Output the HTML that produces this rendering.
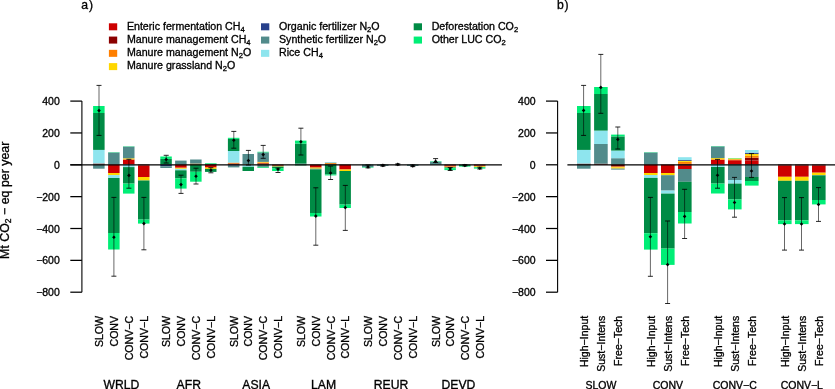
<!DOCTYPE html>
<html><head><meta charset="utf-8"><style>
html,body{margin:0;padding:0;background:#fff;overflow:hidden}
svg{display:block;will-change:transform}
text{font-family:"Liberation Sans", sans-serif;fill:#000;stroke:#000;stroke-width:0.32px}
</style></head><body>
<svg width="835" height="389" viewBox="0 0 835 389">
<rect x="108.90" y="23.30" width="8.3" height="7" fill="#CD0000"/>
<text x="126.90" y="29.50" font-size="10.65">Enteric fermentation CH<tspan font-size="7.6" dy="2.3">4</tspan></text>
<rect x="108.90" y="36.57" width="8.3" height="7" fill="#8B0000"/>
<text x="126.90" y="42.73" font-size="10.65">Manure management CH<tspan font-size="7.6" dy="2.3">4</tspan></text>
<rect x="108.90" y="49.84" width="8.3" height="7" fill="#FF7F00"/>
<text x="126.90" y="55.96" font-size="10.65">Manure management N<tspan font-size="7.6" dy="2.3">2</tspan><tspan dy="-2.3">O</tspan></text>
<rect x="108.90" y="63.11" width="8.3" height="7" fill="#FFD700"/>
<text x="126.90" y="69.19" font-size="10.65">Manure grassland N<tspan font-size="7.6" dy="2.3">2</tspan><tspan dy="-2.3">O</tspan></text>
<rect x="261.00" y="23.30" width="8.3" height="7" fill="#27408B"/>
<text x="279.00" y="29.50" font-size="10.65">Organic fertilizer N<tspan font-size="7.6" dy="2.3">2</tspan><tspan dy="-2.3">O</tspan></text>
<rect x="261.00" y="36.57" width="8.3" height="7" fill="#528B8B"/>
<text x="279.00" y="42.73" font-size="10.65">Synthetic fertilizer N<tspan font-size="7.6" dy="2.3">2</tspan><tspan dy="-2.3">O</tspan></text>
<rect x="261.00" y="49.84" width="8.3" height="7" fill="#8EE5EE"/>
<text x="279.00" y="55.96" font-size="10.65">Rice CH<tspan font-size="7.6" dy="2.3">4</tspan></text>
<rect x="413.70" y="23.30" width="8.3" height="7" fill="#008B45"/>
<text x="431.70" y="29.50" font-size="10.65">Deforestation CO<tspan font-size="7.6" dy="2.3">2</tspan></text>
<rect x="413.70" y="36.57" width="8.3" height="7" fill="#00EE76"/>
<text x="431.70" y="42.73" font-size="10.65">Other LUC CO<tspan font-size="7.6" dy="2.3">2</tspan></text>
<text x="81.3" y="9.0" font-size="12.2">a</text><text x="88.9" y="8.9" font-size="12.2">)</text>
<text x="557.0" y="8.8" font-size="12.2">b</text><text x="564.6" y="8.8" font-size="12.2">)</text>
<rect x="93.10" y="163.50" width="11.50" height="1.10" fill="#8B0000"/>
<rect x="93.10" y="149.90" width="11.50" height="13.60" fill="#8EE5EE"/>
<rect x="93.10" y="113.00" width="11.50" height="36.90" fill="#008B45"/>
<rect x="93.10" y="106.00" width="11.50" height="7.00" fill="#00EE76"/>
<rect x="93.10" y="164.60" width="11.50" height="4.10" fill="#528B8B"/>
<rect x="108.10" y="152.50" width="11.50" height="12.10" fill="#528B8B"/>
<rect x="108.10" y="152.20" width="11.50" height="0.30" fill="#00EE76"/>
<rect x="108.10" y="164.60" width="11.50" height="8.40" fill="#CD0000"/>
<rect x="108.10" y="173.00" width="11.50" height="2.10" fill="#FFD700"/>
<rect x="108.10" y="175.10" width="11.50" height="2.90" fill="#8EE5EE"/>
<rect x="108.10" y="178.00" width="11.50" height="55.00" fill="#008B45"/>
<rect x="108.10" y="233.00" width="11.50" height="16.50" fill="#00EE76"/>
<rect x="123.00" y="159.60" width="11.50" height="5.00" fill="#CD0000"/>
<rect x="123.00" y="159.20" width="11.50" height="0.40" fill="#FF7F00"/>
<rect x="123.00" y="158.30" width="11.50" height="0.90" fill="#FFD700"/>
<rect x="123.00" y="146.60" width="11.50" height="11.70" fill="#528B8B"/>
<rect x="123.00" y="146.30" width="11.50" height="0.30" fill="#00EE76"/>
<rect x="123.00" y="164.60" width="11.50" height="2.50" fill="#8EE5EE"/>
<rect x="123.00" y="167.10" width="11.50" height="16.50" fill="#008B45"/>
<rect x="123.00" y="183.60" width="11.50" height="10.00" fill="#00EE76"/>
<rect x="138.00" y="164.60" width="11.50" height="0.80" fill="#8B0000"/>
<rect x="138.00" y="165.40" width="11.50" height="11.60" fill="#CD0000"/>
<rect x="138.00" y="177.00" width="11.50" height="3.50" fill="#FFD700"/>
<rect x="138.00" y="180.50" width="11.50" height="39.10" fill="#008B45"/>
<rect x="138.00" y="219.60" width="11.50" height="4.00" fill="#00EE76"/>
<rect x="160.30" y="158.90" width="11.50" height="5.70" fill="#008B45"/>
<rect x="160.30" y="156.50" width="11.50" height="2.40" fill="#00EE76"/>
<rect x="160.30" y="164.60" width="11.50" height="1.70" fill="#27408B"/>
<rect x="160.30" y="166.30" width="11.50" height="1.70" fill="#528B8B"/>
<rect x="175.10" y="160.60" width="11.50" height="4.00" fill="#528B8B"/>
<rect x="175.10" y="164.60" width="11.50" height="3.10" fill="#CD0000"/>
<rect x="175.10" y="167.70" width="11.50" height="0.50" fill="#FF7F00"/>
<rect x="175.10" y="168.20" width="11.50" height="0.70" fill="#FFD700"/>
<rect x="175.10" y="168.90" width="11.50" height="1.40" fill="#8EE5EE"/>
<rect x="175.10" y="170.30" width="11.50" height="8.10" fill="#008B45"/>
<rect x="175.10" y="178.40" width="11.50" height="10.20" fill="#00EE76"/>
<rect x="190.10" y="163.60" width="11.50" height="1.00" fill="#FF7F00"/>
<rect x="190.10" y="159.50" width="11.50" height="4.10" fill="#528B8B"/>
<rect x="190.10" y="164.60" width="11.50" height="7.20" fill="#008B45"/>
<rect x="190.10" y="171.80" width="11.50" height="9.90" fill="#00EE76"/>
<rect x="205.00" y="163.80" width="11.50" height="0.80" fill="#008B45"/>
<rect x="205.00" y="163.20" width="11.50" height="0.60" fill="#00EE76"/>
<rect x="205.00" y="164.60" width="11.50" height="2.50" fill="#CD0000"/>
<rect x="205.00" y="167.10" width="11.50" height="0.80" fill="#FF7F00"/>
<rect x="205.00" y="167.90" width="11.50" height="1.00" fill="#FFD700"/>
<rect x="205.00" y="168.90" width="11.50" height="3.00" fill="#008B45"/>
<rect x="227.90" y="163.50" width="11.50" height="1.10" fill="#8B0000"/>
<rect x="227.90" y="162.60" width="11.50" height="0.90" fill="#FF7F00"/>
<rect x="227.90" y="151.00" width="11.50" height="11.60" fill="#8EE5EE"/>
<rect x="227.90" y="138.90" width="11.50" height="12.10" fill="#008B45"/>
<rect x="227.90" y="137.80" width="11.50" height="1.10" fill="#00EE76"/>
<rect x="227.90" y="164.60" width="11.50" height="1.00" fill="#27408B"/>
<rect x="227.90" y="165.60" width="11.50" height="1.80" fill="#528B8B"/>
<rect x="242.50" y="164.00" width="11.50" height="0.60" fill="#FF7F00"/>
<rect x="242.50" y="154.00" width="11.50" height="10.00" fill="#528B8B"/>
<rect x="242.50" y="164.60" width="11.50" height="2.20" fill="#8EE5EE"/>
<rect x="242.50" y="166.80" width="11.50" height="4.20" fill="#008B45"/>
<rect x="257.40" y="163.30" width="11.50" height="1.30" fill="#8B0000"/>
<rect x="257.40" y="162.40" width="11.50" height="0.90" fill="#FF7F00"/>
<rect x="257.40" y="161.90" width="11.50" height="0.50" fill="#FFD700"/>
<rect x="257.40" y="152.40" width="11.50" height="9.50" fill="#528B8B"/>
<rect x="257.40" y="151.80" width="11.50" height="0.60" fill="#00EE76"/>
<rect x="257.40" y="164.60" width="11.50" height="2.20" fill="#528B8B"/>
<rect x="257.40" y="166.80" width="11.50" height="0.60" fill="#008B45"/>
<rect x="257.40" y="167.40" width="11.50" height="0.60" fill="#00EE76"/>
<rect x="272.10" y="164.60" width="11.50" height="1.10" fill="#8B0000"/>
<rect x="272.10" y="165.70" width="11.50" height="0.50" fill="#FF7F00"/>
<rect x="272.10" y="166.20" width="11.50" height="0.40" fill="#FFD700"/>
<rect x="272.10" y="166.60" width="11.50" height="1.60" fill="#008B45"/>
<rect x="272.10" y="168.20" width="11.50" height="2.80" fill="#00EE76"/>
<rect x="295.00" y="163.60" width="11.50" height="1.00" fill="#528B8B"/>
<rect x="295.00" y="143.60" width="11.50" height="20.00" fill="#008B45"/>
<rect x="295.00" y="140.60" width="11.50" height="3.00" fill="#00EE76"/>
<rect x="295.00" y="164.60" width="11.50" height="0.80" fill="#008B45"/>
<rect x="310.00" y="164.60" width="11.50" height="3.00" fill="#CD0000"/>
<rect x="310.00" y="167.60" width="11.50" height="1.10" fill="#FFD700"/>
<rect x="310.00" y="168.70" width="11.50" height="0.70" fill="#528B8B"/>
<rect x="310.00" y="169.40" width="11.50" height="43.60" fill="#008B45"/>
<rect x="310.00" y="213.00" width="11.50" height="3.50" fill="#00EE76"/>
<rect x="324.90" y="164.20" width="11.50" height="0.40" fill="#8B0000"/>
<rect x="324.90" y="163.10" width="11.50" height="1.10" fill="#FF7F00"/>
<rect x="324.90" y="162.60" width="11.50" height="0.50" fill="#528B8B"/>
<rect x="324.90" y="162.10" width="11.50" height="0.50" fill="#8EE5EE"/>
<rect x="324.90" y="164.60" width="11.50" height="9.90" fill="#008B45"/>
<rect x="324.90" y="174.50" width="11.50" height="0.90" fill="#00EE76"/>
<rect x="339.40" y="164.60" width="11.50" height="4.90" fill="#CD0000"/>
<rect x="339.40" y="169.50" width="11.50" height="1.50" fill="#FFD700"/>
<rect x="339.40" y="171.00" width="11.50" height="33.60" fill="#008B45"/>
<rect x="339.40" y="204.60" width="11.50" height="3.40" fill="#00EE76"/>
<rect x="362.00" y="164.60" width="11.50" height="2.60" fill="#528B8B"/>
<rect x="362.00" y="167.20" width="11.50" height="0.50" fill="#00EE76"/>
<rect x="377.00" y="164.60" width="11.50" height="1.30" fill="#528B8B"/>
<rect x="407.00" y="164.60" width="11.50" height="1.30" fill="#528B8B"/>
<rect x="430.00" y="161.60" width="11.50" height="3.00" fill="#528B8B"/>
<rect x="430.00" y="161.20" width="11.50" height="0.40" fill="#00EE76"/>
<rect x="444.40" y="164.60" width="11.50" height="0.90" fill="#8B0000"/>
<rect x="444.40" y="165.50" width="11.50" height="0.90" fill="#CD0000"/>
<rect x="444.40" y="166.40" width="11.50" height="0.60" fill="#FF7F00"/>
<rect x="444.40" y="167.00" width="11.50" height="0.40" fill="#FFD700"/>
<rect x="444.40" y="167.40" width="11.50" height="0.80" fill="#008B45"/>
<rect x="444.40" y="168.20" width="11.50" height="1.90" fill="#00EE76"/>
<rect x="459.00" y="164.60" width="11.50" height="1.30" fill="#008B45"/>
<rect x="459.00" y="165.90" width="11.50" height="0.70" fill="#00EE76"/>
<rect x="473.90" y="164.60" width="11.50" height="0.90" fill="#8B0000"/>
<rect x="473.90" y="165.50" width="11.50" height="0.80" fill="#CD0000"/>
<rect x="473.90" y="166.30" width="11.50" height="0.70" fill="#FFD700"/>
<rect x="473.90" y="167.00" width="11.50" height="0.50" fill="#008B45"/>
<rect x="473.90" y="167.50" width="11.50" height="1.10" fill="#00EE76"/>
<rect x="577.00" y="163.60" width="13.60" height="1.00" fill="#8B0000"/>
<rect x="577.00" y="149.90" width="13.60" height="13.70" fill="#8EE5EE"/>
<rect x="577.00" y="113.00" width="13.60" height="36.90" fill="#008B45"/>
<rect x="577.00" y="106.00" width="13.60" height="7.00" fill="#00EE76"/>
<rect x="577.00" y="164.60" width="13.60" height="4.10" fill="#528B8B"/>
<rect x="594.10" y="163.70" width="13.60" height="0.90" fill="#8B0000"/>
<rect x="594.10" y="144.00" width="13.60" height="19.70" fill="#528B8B"/>
<rect x="594.10" y="130.60" width="13.60" height="13.40" fill="#8EE5EE"/>
<rect x="594.10" y="94.00" width="13.60" height="36.60" fill="#008B45"/>
<rect x="594.10" y="87.00" width="13.60" height="7.00" fill="#00EE76"/>
<rect x="611.10" y="158.20" width="13.60" height="6.40" fill="#528B8B"/>
<rect x="611.10" y="150.60" width="13.60" height="7.60" fill="#8EE5EE"/>
<rect x="611.10" y="136.40" width="13.60" height="14.20" fill="#008B45"/>
<rect x="611.10" y="134.60" width="13.60" height="1.80" fill="#00EE76"/>
<rect x="611.10" y="164.60" width="13.60" height="2.00" fill="#8B0000"/>
<rect x="611.10" y="166.60" width="13.60" height="0.70" fill="#FF7F00"/>
<rect x="611.10" y="167.30" width="13.60" height="1.30" fill="#FFD700"/>
<rect x="611.10" y="168.60" width="13.60" height="1.00" fill="#528B8B"/>
<rect x="644.00" y="152.50" width="13.60" height="12.10" fill="#528B8B"/>
<rect x="644.00" y="152.20" width="13.60" height="0.30" fill="#00EE76"/>
<rect x="644.00" y="164.60" width="13.60" height="8.40" fill="#CD0000"/>
<rect x="644.00" y="173.00" width="13.60" height="2.00" fill="#FFD700"/>
<rect x="644.00" y="175.00" width="13.60" height="2.90" fill="#8EE5EE"/>
<rect x="644.00" y="177.90" width="13.60" height="55.30" fill="#008B45"/>
<rect x="644.00" y="233.20" width="13.60" height="16.40" fill="#00EE76"/>
<rect x="661.00" y="164.60" width="13.60" height="8.40" fill="#CD0000"/>
<rect x="661.00" y="173.00" width="13.60" height="2.20" fill="#FFD700"/>
<rect x="661.00" y="175.20" width="13.60" height="15.40" fill="#528B8B"/>
<rect x="661.00" y="190.60" width="13.60" height="3.00" fill="#8EE5EE"/>
<rect x="661.00" y="193.60" width="13.60" height="55.00" fill="#008B45"/>
<rect x="661.00" y="248.60" width="13.60" height="16.30" fill="#00EE76"/>
<rect x="678.00" y="163.90" width="13.60" height="0.70" fill="#8B0000"/>
<rect x="678.00" y="161.90" width="13.60" height="2.00" fill="#FF7F00"/>
<rect x="678.00" y="160.80" width="13.60" height="1.10" fill="#FFD700"/>
<rect x="678.00" y="160.00" width="13.60" height="0.80" fill="#27408B"/>
<rect x="678.00" y="157.20" width="13.60" height="2.80" fill="#8EE5EE"/>
<rect x="678.00" y="164.60" width="13.60" height="1.20" fill="#8B0000"/>
<rect x="678.00" y="165.80" width="13.60" height="3.20" fill="#CD0000"/>
<rect x="678.00" y="169.00" width="13.60" height="12.80" fill="#528B8B"/>
<rect x="678.00" y="181.80" width="13.60" height="30.20" fill="#008B45"/>
<rect x="678.00" y="212.00" width="13.60" height="11.50" fill="#00EE76"/>
<rect x="711.00" y="159.90" width="13.60" height="4.70" fill="#CD0000"/>
<rect x="711.00" y="159.20" width="13.60" height="0.70" fill="#FF7F00"/>
<rect x="711.00" y="158.10" width="13.60" height="1.10" fill="#FFD700"/>
<rect x="711.00" y="146.40" width="13.60" height="11.70" fill="#528B8B"/>
<rect x="711.00" y="146.10" width="13.60" height="0.30" fill="#00EE76"/>
<rect x="711.00" y="164.60" width="13.60" height="2.40" fill="#8EE5EE"/>
<rect x="711.00" y="167.00" width="13.60" height="16.60" fill="#008B45"/>
<rect x="711.00" y="183.60" width="13.60" height="9.90" fill="#00EE76"/>
<rect x="728.00" y="160.20" width="13.60" height="4.40" fill="#CD0000"/>
<rect x="728.00" y="159.30" width="13.60" height="0.90" fill="#FF7F00"/>
<rect x="728.00" y="158.50" width="13.60" height="0.80" fill="#FFD700"/>
<rect x="728.00" y="158.10" width="13.60" height="0.40" fill="#00EE76"/>
<rect x="728.00" y="164.60" width="13.60" height="15.40" fill="#528B8B"/>
<rect x="728.00" y="180.00" width="13.60" height="3.60" fill="#8EE5EE"/>
<rect x="728.00" y="183.60" width="13.60" height="15.90" fill="#008B45"/>
<rect x="728.00" y="199.50" width="13.60" height="9.90" fill="#00EE76"/>
<rect x="745.00" y="160.40" width="13.60" height="4.20" fill="#CD0000"/>
<rect x="745.00" y="157.70" width="13.60" height="2.70" fill="#8B0000"/>
<rect x="745.00" y="155.80" width="13.60" height="1.90" fill="#FF7F00"/>
<rect x="745.00" y="153.90" width="13.60" height="1.90" fill="#FFD700"/>
<rect x="745.00" y="152.70" width="13.60" height="1.20" fill="#27408B"/>
<rect x="745.00" y="150.00" width="13.60" height="2.70" fill="#8EE5EE"/>
<rect x="745.00" y="164.60" width="13.60" height="12.40" fill="#528B8B"/>
<rect x="745.00" y="177.00" width="13.60" height="4.00" fill="#008B45"/>
<rect x="745.00" y="181.00" width="13.60" height="4.60" fill="#00EE76"/>
<rect x="778.00" y="164.60" width="13.60" height="1.00" fill="#8B0000"/>
<rect x="778.00" y="165.60" width="13.60" height="11.20" fill="#CD0000"/>
<rect x="778.00" y="176.80" width="13.60" height="4.00" fill="#FFD700"/>
<rect x="778.00" y="180.80" width="13.60" height="39.60" fill="#008B45"/>
<rect x="778.00" y="220.40" width="13.60" height="3.70" fill="#00EE76"/>
<rect x="795.00" y="164.60" width="13.60" height="1.00" fill="#8B0000"/>
<rect x="795.00" y="165.60" width="13.60" height="11.20" fill="#CD0000"/>
<rect x="795.00" y="176.80" width="13.60" height="4.00" fill="#FFD700"/>
<rect x="795.00" y="180.80" width="13.60" height="39.60" fill="#008B45"/>
<rect x="795.00" y="220.40" width="13.60" height="3.70" fill="#00EE76"/>
<rect x="812.00" y="164.60" width="13.60" height="0.80" fill="#8B0000"/>
<rect x="812.00" y="165.40" width="13.60" height="7.30" fill="#CD0000"/>
<rect x="812.00" y="172.70" width="13.60" height="2.30" fill="#FFD700"/>
<rect x="812.00" y="175.00" width="13.60" height="0.40" fill="#528B8B"/>
<rect x="812.00" y="175.40" width="13.60" height="24.60" fill="#008B45"/>
<rect x="812.00" y="200.00" width="13.60" height="4.40" fill="#00EE76"/>
<path d="M70.3 164.90H501.9" stroke="#000" stroke-width="1.4" fill="none"/>
<path d="M567.4 164.90H835" stroke="#000" stroke-width="1.4" fill="none"/>
<path d="M99.00 85.40V135.40" stroke="#000" stroke-width="0.6" fill="none"/>
<path d="M96.50 85.40h5M96.50 135.40h5" stroke="#000" stroke-width="0.85" fill="none"/>
<path d="M99.00 108.80l1.8 1.8l-1.8 1.8l-1.8 -1.8z" fill="#000"/>
<path d="M113.90 197.40V276.20" stroke="#000" stroke-width="0.6" fill="none"/>
<path d="M111.40 197.40h5M111.40 276.20h5" stroke="#000" stroke-width="0.85" fill="none"/>
<path d="M113.90 235.40l1.8 1.8l-1.8 1.8l-1.8 -1.8z" fill="#000"/>
<path d="M128.90 159.30V188.20" stroke="#000" stroke-width="0.6" fill="none"/>
<path d="M126.40 159.30h5M126.40 188.20h5" stroke="#000" stroke-width="0.85" fill="none"/>
<path d="M128.90 173.60l1.8 1.8l-1.8 1.8l-1.8 -1.8z" fill="#000"/>
<path d="M143.90 197.40V249.80" stroke="#000" stroke-width="0.6" fill="none"/>
<path d="M141.40 197.40h5M141.40 249.80h5" stroke="#000" stroke-width="0.85" fill="none"/>
<path d="M143.90 221.80l1.8 1.8l-1.8 1.8l-1.8 -1.8z" fill="#000"/>
<path d="M166.20 155.30V163.00" stroke="#000" stroke-width="0.6" fill="none"/>
<path d="M163.70 155.30h5M163.70 163.00h5" stroke="#000" stroke-width="0.85" fill="none"/>
<path d="M166.20 157.70l1.8 1.8l-1.8 1.8l-1.8 -1.8z" fill="#000"/>
<path d="M181.00 175.20V193.40" stroke="#000" stroke-width="0.6" fill="none"/>
<path d="M178.50 175.20h5M178.50 193.40h5" stroke="#000" stroke-width="0.85" fill="none"/>
<path d="M181.00 182.80l1.8 1.8l-1.8 1.8l-1.8 -1.8z" fill="#000"/>
<path d="M196.00 168.20V184.00" stroke="#000" stroke-width="0.6" fill="none"/>
<path d="M193.50 168.20h5M193.50 184.00h5" stroke="#000" stroke-width="0.85" fill="none"/>
<path d="M196.00 174.40l1.8 1.8l-1.8 1.8l-1.8 -1.8z" fill="#000"/>
<path d="M210.90 167.70V172.80" stroke="#000" stroke-width="0.6" fill="none"/>
<path d="M208.40 167.70h5M208.40 172.80h5" stroke="#000" stroke-width="0.85" fill="none"/>
<path d="M210.90 168.50l1.8 1.8l-1.8 1.8l-1.8 -1.8z" fill="#000"/>
<path d="M233.80 131.40V148.20" stroke="#000" stroke-width="0.6" fill="none"/>
<path d="M231.30 131.40h5M231.30 148.20h5" stroke="#000" stroke-width="0.85" fill="none"/>
<path d="M233.80 138.40l1.8 1.8l-1.8 1.8l-1.8 -1.8z" fill="#000"/>
<path d="M248.40 150.40V165.00" stroke="#000" stroke-width="0.6" fill="none"/>
<path d="M245.90 150.40h5M245.90 165.00h5" stroke="#000" stroke-width="0.85" fill="none"/>
<path d="M248.40 158.80l1.8 1.8l-1.8 1.8l-1.8 -1.8z" fill="#000"/>
<path d="M263.20 145.40V158.30" stroke="#000" stroke-width="0.6" fill="none"/>
<path d="M260.70 145.40h5M260.70 158.30h5" stroke="#000" stroke-width="0.85" fill="none"/>
<path d="M263.20 152.80l1.8 1.8l-1.8 1.8l-1.8 -1.8z" fill="#000"/>
<path d="M278.00 168.20V172.50" stroke="#000" stroke-width="0.6" fill="none"/>
<path d="M275.50 168.20h5M275.50 172.50h5" stroke="#000" stroke-width="0.85" fill="none"/>
<path d="M278.00 167.50l1.8 1.8l-1.8 1.8l-1.8 -1.8z" fill="#000"/>
<path d="M300.90 128.20V155.00" stroke="#000" stroke-width="0.6" fill="none"/>
<path d="M298.40 128.20h5M298.40 155.00h5" stroke="#000" stroke-width="0.85" fill="none"/>
<path d="M300.90 140.00l1.8 1.8l-1.8 1.8l-1.8 -1.8z" fill="#000"/>
<path d="M315.80 187.80V245.20" stroke="#000" stroke-width="0.6" fill="none"/>
<path d="M313.30 187.80h5M313.30 245.20h5" stroke="#000" stroke-width="0.85" fill="none"/>
<path d="M315.80 214.30l1.8 1.8l-1.8 1.8l-1.8 -1.8z" fill="#000"/>
<path d="M330.60 166.10V179.50" stroke="#000" stroke-width="0.6" fill="none"/>
<path d="M328.10 166.10h5M328.10 179.50h5" stroke="#000" stroke-width="0.85" fill="none"/>
<path d="M330.60 171.20l1.8 1.8l-1.8 1.8l-1.8 -1.8z" fill="#000"/>
<path d="M345.30 185.40V230.40" stroke="#000" stroke-width="0.6" fill="none"/>
<path d="M342.80 185.40h5M342.80 230.40h5" stroke="#000" stroke-width="0.85" fill="none"/>
<path d="M345.30 205.80l1.8 1.8l-1.8 1.8l-1.8 -1.8z" fill="#000"/>
<path d="M368.00 165.00V167.90" stroke="#000" stroke-width="0.6" fill="none"/>
<path d="M365.50 165.00h5M365.50 167.90h5" stroke="#000" stroke-width="0.85" fill="none"/>
<path d="M368.00 165.10l1.8 1.8l-1.8 1.8l-1.8 -1.8z" fill="#000"/>
<path d="M382.90 164.80V166.20" stroke="#000" stroke-width="0.6" fill="none"/>
<path d="M380.40 164.80h5M380.40 166.20h5" stroke="#000" stroke-width="0.85" fill="none"/>
<path d="M382.90 163.60l1.8 1.8l-1.8 1.8l-1.8 -1.8z" fill="#000"/>
<path d="M397.80 163.90V165.00" stroke="#000" stroke-width="0.6" fill="none"/>
<path d="M395.30 163.90h5M395.30 165.00h5" stroke="#000" stroke-width="0.85" fill="none"/>
<path d="M397.80 162.60l1.8 1.8l-1.8 1.8l-1.8 -1.8z" fill="#000"/>
<path d="M412.80 165.00V166.60" stroke="#000" stroke-width="0.6" fill="none"/>
<path d="M410.30 165.00h5M410.30 166.60h5" stroke="#000" stroke-width="0.85" fill="none"/>
<path d="M412.80 164.10l1.8 1.8l-1.8 1.8l-1.8 -1.8z" fill="#000"/>
<path d="M435.60 158.60V162.50" stroke="#000" stroke-width="0.6" fill="none"/>
<path d="M433.10 158.60h5M433.10 162.50h5" stroke="#000" stroke-width="0.85" fill="none"/>
<path d="M435.60 159.60l1.8 1.8l-1.8 1.8l-1.8 -1.8z" fill="#000"/>
<path d="M450.20 167.50V170.50" stroke="#000" stroke-width="0.6" fill="none"/>
<path d="M447.70 167.50h5M447.70 170.50h5" stroke="#000" stroke-width="0.85" fill="none"/>
<path d="M450.20 167.20l1.8 1.8l-1.8 1.8l-1.8 -1.8z" fill="#000"/>
<path d="M464.90 164.60V166.00" stroke="#000" stroke-width="0.6" fill="none"/>
<path d="M462.40 164.60h5M462.40 166.00h5" stroke="#000" stroke-width="0.85" fill="none"/>
<path d="M464.90 163.70l1.8 1.8l-1.8 1.8l-1.8 -1.8z" fill="#000"/>
<path d="M479.80 167.20V169.00" stroke="#000" stroke-width="0.6" fill="none"/>
<path d="M477.30 167.20h5M477.30 169.00h5" stroke="#000" stroke-width="0.85" fill="none"/>
<path d="M479.80 166.40l1.8 1.8l-1.8 1.8l-1.8 -1.8z" fill="#000"/>
<path d="M583.60 85.40V135.40" stroke="#000" stroke-width="0.6" fill="none"/>
<path d="M581.10 85.40h5M581.10 135.40h5" stroke="#000" stroke-width="0.85" fill="none"/>
<path d="M583.60 108.60l1.8 1.8l-1.8 1.8l-1.8 -1.8z" fill="#000"/>
<path d="M600.80 54.40V113.30" stroke="#000" stroke-width="0.6" fill="none"/>
<path d="M598.30 54.40h5M598.30 113.30h5" stroke="#000" stroke-width="0.85" fill="none"/>
<path d="M600.80 85.60l1.8 1.8l-1.8 1.8l-1.8 -1.8z" fill="#000"/>
<path d="M617.80 127.00V149.00" stroke="#000" stroke-width="0.6" fill="none"/>
<path d="M615.30 127.00h5M615.30 149.00h5" stroke="#000" stroke-width="0.85" fill="none"/>
<path d="M617.80 137.60l1.8 1.8l-1.8 1.8l-1.8 -1.8z" fill="#000"/>
<path d="M650.40 197.40V276.30" stroke="#000" stroke-width="0.6" fill="none"/>
<path d="M647.90 197.40h5M647.90 276.30h5" stroke="#000" stroke-width="0.85" fill="none"/>
<path d="M650.40 235.00l1.8 1.8l-1.8 1.8l-1.8 -1.8z" fill="#000"/>
<path d="M667.60 221.00V303.50" stroke="#000" stroke-width="0.6" fill="none"/>
<path d="M665.10 221.00h5M665.10 303.50h5" stroke="#000" stroke-width="0.85" fill="none"/>
<path d="M667.60 262.80l1.8 1.8l-1.8 1.8l-1.8 -1.8z" fill="#000"/>
<path d="M684.60 189.30V238.50" stroke="#000" stroke-width="0.6" fill="none"/>
<path d="M682.10 189.30h5M682.10 238.50h5" stroke="#000" stroke-width="0.85" fill="none"/>
<path d="M684.60 214.60l1.8 1.8l-1.8 1.8l-1.8 -1.8z" fill="#000"/>
<path d="M717.50 159.40V188.20" stroke="#000" stroke-width="0.6" fill="none"/>
<path d="M715.00 159.40h5M715.00 188.20h5" stroke="#000" stroke-width="0.85" fill="none"/>
<path d="M717.50 173.40l1.8 1.8l-1.8 1.8l-1.8 -1.8z" fill="#000"/>
<path d="M734.50 177.40V217.20" stroke="#000" stroke-width="0.6" fill="none"/>
<path d="M732.00 177.40h5M732.00 217.20h5" stroke="#000" stroke-width="0.85" fill="none"/>
<path d="M734.50 200.70l1.8 1.8l-1.8 1.8l-1.8 -1.8z" fill="#000"/>
<path d="M751.50 153.60V177.40" stroke="#000" stroke-width="0.6" fill="none"/>
<path d="M749.00 153.60h5M749.00 177.40h5" stroke="#000" stroke-width="0.85" fill="none"/>
<path d="M751.50 169.20l1.8 1.8l-1.8 1.8l-1.8 -1.8z" fill="#000"/>
<path d="M784.50 197.60V250.10" stroke="#000" stroke-width="0.6" fill="none"/>
<path d="M782.00 197.60h5M782.00 250.10h5" stroke="#000" stroke-width="0.85" fill="none"/>
<path d="M784.50 222.20l1.8 1.8l-1.8 1.8l-1.8 -1.8z" fill="#000"/>
<path d="M801.50 197.60V250.10" stroke="#000" stroke-width="0.6" fill="none"/>
<path d="M799.00 197.60h5M799.00 250.10h5" stroke="#000" stroke-width="0.85" fill="none"/>
<path d="M801.50 222.20l1.8 1.8l-1.8 1.8l-1.8 -1.8z" fill="#000"/>
<path d="M818.50 187.60V221.40" stroke="#000" stroke-width="0.6" fill="none"/>
<path d="M816.00 187.60h5M816.00 221.40h5" stroke="#000" stroke-width="0.85" fill="none"/>
<path d="M818.50 202.70l1.8 1.8l-1.8 1.8l-1.8 -1.8z" fill="#000"/>
<path d="M81.90 101.10V292.20" stroke="#000" stroke-width="1.1" fill="none"/>
<path d="M70.30 101.10H81.90" stroke="#000" stroke-width="1.25" fill="none"/>
<text x="59.80" y="105.20" text-anchor="end" font-size="10.5">400</text>
<path d="M70.30 132.95H81.90" stroke="#000" stroke-width="1.25" fill="none"/>
<text x="59.80" y="137.05" text-anchor="end" font-size="10.5">200</text>
<path d="M70.30 164.80H81.90" stroke="#000" stroke-width="1.25" fill="none"/>
<text x="59.80" y="168.90" text-anchor="end" font-size="10.5">0</text>
<path d="M70.30 196.65H81.90" stroke="#000" stroke-width="1.25" fill="none"/>
<text x="59.80" y="200.75" text-anchor="end" font-size="10.5">−200</text>
<path d="M70.30 228.50H81.90" stroke="#000" stroke-width="1.25" fill="none"/>
<text x="59.80" y="232.60" text-anchor="end" font-size="10.5">−400</text>
<path d="M70.30 260.35H81.90" stroke="#000" stroke-width="1.25" fill="none"/>
<text x="59.80" y="264.45" text-anchor="end" font-size="10.5">−600</text>
<path d="M70.30 292.20H81.90" stroke="#000" stroke-width="1.25" fill="none"/>
<text x="59.80" y="296.30" text-anchor="end" font-size="10.5">−800</text>
<path d="M557.60 101.10V292.20" stroke="#000" stroke-width="1.1" fill="none"/>
<path d="M546.00 101.10H557.60" stroke="#000" stroke-width="1.25" fill="none"/>
<text x="535.60" y="105.20" text-anchor="end" font-size="10.5">400</text>
<path d="M546.00 132.95H557.60" stroke="#000" stroke-width="1.25" fill="none"/>
<text x="535.60" y="137.05" text-anchor="end" font-size="10.5">200</text>
<path d="M546.00 164.80H557.60" stroke="#000" stroke-width="1.25" fill="none"/>
<text x="535.60" y="168.90" text-anchor="end" font-size="10.5">0</text>
<path d="M546.00 196.65H557.60" stroke="#000" stroke-width="1.25" fill="none"/>
<text x="535.60" y="200.75" text-anchor="end" font-size="10.5">−200</text>
<path d="M546.00 228.50H557.60" stroke="#000" stroke-width="1.25" fill="none"/>
<text x="535.60" y="232.60" text-anchor="end" font-size="10.5">−400</text>
<path d="M546.00 260.35H557.60" stroke="#000" stroke-width="1.25" fill="none"/>
<text x="535.60" y="264.45" text-anchor="end" font-size="10.5">−600</text>
<path d="M546.00 292.20H557.60" stroke="#000" stroke-width="1.25" fill="none"/>
<text x="535.60" y="296.30" text-anchor="end" font-size="10.5">−800</text>
<text transform="translate(102.85 316.00) rotate(-90)" text-anchor="end" font-size="10.55">SLOW</text>
<text transform="translate(117.85 316.00) rotate(-90)" text-anchor="end" font-size="10.55">CONV</text>
<text transform="translate(132.75 316.00) rotate(-90)" text-anchor="end" font-size="10.55">CONV−C</text>
<text transform="translate(147.75 316.00) rotate(-90)" text-anchor="end" font-size="10.55">CONV−L</text>
<text transform="translate(170.05 316.00) rotate(-90)" text-anchor="end" font-size="10.55">SLOW</text>
<text transform="translate(184.85 316.00) rotate(-90)" text-anchor="end" font-size="10.55">CONV</text>
<text transform="translate(199.85 316.00) rotate(-90)" text-anchor="end" font-size="10.55">CONV−C</text>
<text transform="translate(214.75 316.00) rotate(-90)" text-anchor="end" font-size="10.55">CONV−L</text>
<text transform="translate(237.65 316.00) rotate(-90)" text-anchor="end" font-size="10.55">SLOW</text>
<text transform="translate(252.25 316.00) rotate(-90)" text-anchor="end" font-size="10.55">CONV</text>
<text transform="translate(267.15 316.00) rotate(-90)" text-anchor="end" font-size="10.55">CONV−C</text>
<text transform="translate(281.85 316.00) rotate(-90)" text-anchor="end" font-size="10.55">CONV−L</text>
<text transform="translate(304.75 316.00) rotate(-90)" text-anchor="end" font-size="10.55">SLOW</text>
<text transform="translate(319.75 316.00) rotate(-90)" text-anchor="end" font-size="10.55">CONV</text>
<text transform="translate(334.65 316.00) rotate(-90)" text-anchor="end" font-size="10.55">CONV−C</text>
<text transform="translate(349.15 316.00) rotate(-90)" text-anchor="end" font-size="10.55">CONV−L</text>
<text transform="translate(371.75 316.00) rotate(-90)" text-anchor="end" font-size="10.55">SLOW</text>
<text transform="translate(386.75 316.00) rotate(-90)" text-anchor="end" font-size="10.55">CONV</text>
<text transform="translate(401.75 316.00) rotate(-90)" text-anchor="end" font-size="10.55">CONV−C</text>
<text transform="translate(416.75 316.00) rotate(-90)" text-anchor="end" font-size="10.55">CONV−L</text>
<text transform="translate(439.75 316.00) rotate(-90)" text-anchor="end" font-size="10.55">SLOW</text>
<text transform="translate(454.15 316.00) rotate(-90)" text-anchor="end" font-size="10.55">CONV</text>
<text transform="translate(468.75 316.00) rotate(-90)" text-anchor="end" font-size="10.55">CONV−C</text>
<text transform="translate(483.65 316.00) rotate(-90)" text-anchor="end" font-size="10.55">CONV−L</text>
<text transform="translate(587.80 315.80) rotate(-90)" text-anchor="end" font-size="10.55">High−Input</text>
<text transform="translate(604.90 315.80) rotate(-90)" text-anchor="end" font-size="10.55">Sust−Intens</text>
<text transform="translate(621.90 315.80) rotate(-90)" text-anchor="end" font-size="10.55">Free−Tech</text>
<text transform="translate(654.80 315.80) rotate(-90)" text-anchor="end" font-size="10.55">High−Input</text>
<text transform="translate(671.80 315.80) rotate(-90)" text-anchor="end" font-size="10.55">Sust−Intens</text>
<text transform="translate(688.80 315.80) rotate(-90)" text-anchor="end" font-size="10.55">Free−Tech</text>
<text transform="translate(721.80 315.80) rotate(-90)" text-anchor="end" font-size="10.55">High−Input</text>
<text transform="translate(738.80 315.80) rotate(-90)" text-anchor="end" font-size="10.55">Sust−Intens</text>
<text transform="translate(755.80 315.80) rotate(-90)" text-anchor="end" font-size="10.55">Free−Tech</text>
<text transform="translate(788.80 315.80) rotate(-90)" text-anchor="end" font-size="10.55">High−Input</text>
<text transform="translate(805.80 315.80) rotate(-90)" text-anchor="end" font-size="10.55">Sust−Intens</text>
<text transform="translate(822.80 315.80) rotate(-90)" text-anchor="end" font-size="10.55">Free−Tech</text>
<text x="121.40" y="389.3" text-anchor="middle" font-size="12.2">WRLD</text>
<text x="188.80" y="389.3" text-anchor="middle" font-size="12.2">AFR</text>
<text x="256.20" y="389.3" text-anchor="middle" font-size="12.2">ASIA</text>
<text x="323.60" y="389.3" text-anchor="middle" font-size="12.2">LAM</text>
<text x="391.00" y="389.3" text-anchor="middle" font-size="12.2">REUR</text>
<text x="458.40" y="389.3" text-anchor="middle" font-size="12.2">DEVD</text>
<text x="600.90" y="388.6" text-anchor="middle" font-size="10.5">SLOW</text>
<text x="667.80" y="388.6" text-anchor="middle" font-size="10.5">CONV</text>
<text x="734.80" y="388.6" text-anchor="middle" font-size="10.5">CONV−C</text>
<text x="801.80" y="388.6" text-anchor="middle" font-size="10.5">CONV−L</text>
<text transform="translate(9.2 200.3) rotate(-90)" text-anchor="middle" font-size="12.4">Mt CO<tspan font-size="8.6" dy="1.7">2</tspan><tspan dy="-1.7"> − eq per year</tspan></text>
</svg>
</body></html>
